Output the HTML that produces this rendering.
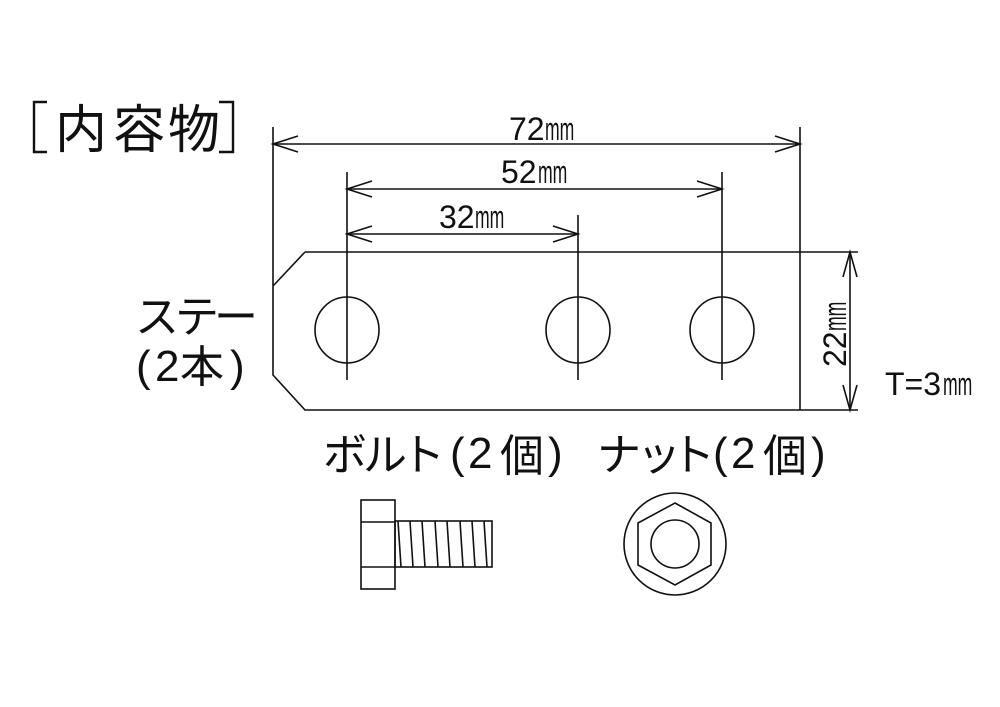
<!DOCTYPE html>
<html><head><meta charset="utf-8"><style>
html,body{margin:0;padding:0;background:#fff;}
svg{display:block;}
text{font-family:"Liberation Sans","Noto Sans CJK JP",sans-serif;fill:#111;}
.j{font-family:"Noto Sans CJK JP","Liberation Sans",sans-serif;text-anchor:middle;}
</style></head><body>
<svg width="1000" height="707" viewBox="0 0 1000 707" xmlns="http://www.w3.org/2000/svg">
<g stroke="#111" stroke-width="1.6" fill="none">
<path d="M305,252 L858,252 M273,127 L273,375 L305,410 L858,410 M273,286 L305,252"/>
<line x1="800" y1="127" x2="800" y2="410"/>
<line x1="273" y1="144" x2="800" y2="144"/>
<path d="M298,136 L273,144 L298,152 M775,136 L800,144 L775,152"/>
<line x1="347" y1="189" x2="722" y2="189"/>
<path d="M372,181 L347,189 L372,197 M697,181 L722,189 L697,197"/>
<line x1="347" y1="172" x2="347" y2="380"/>
<line x1="722" y1="172" x2="722" y2="380"/>
<line x1="347" y1="234" x2="578" y2="234"/>
<path d="M372,226 L347,234 L372,242 M553,226 L578,234 L553,242"/>
<line x1="578" y1="215" x2="578" y2="380"/>
<ellipse cx="347" cy="330" rx="32" ry="33"/>
<ellipse cx="578" cy="330" rx="32" ry="33"/>
<ellipse cx="722" cy="330" rx="32" ry="33"/>
<line x1="850" y1="252" x2="850" y2="410"/>
<path d="M843,277 L850,252 L857,277 M843,385 L850,410 L857,385"/>
<rect x="361" y="500" width="34" height="89"/>
<line x1="361" y1="522" x2="395" y2="522"/>
<line x1="361" y1="567" x2="395" y2="567"/>
<rect x="395" y="521" width="97" height="46"/>
<path d="M398,521 L401,567 M410,521 L413,567 M422,521 L425,567 M435,521 L438,567 M447,521 L450,567 M460,521 L463,567 M472,521 L475,567 M484,521 L487,567"/>
<circle cx="675" cy="544" r="51"/>
<polygon points="675,503 711,523 711,565 675,585 638,565 638,523"/>
<circle cx="675" cy="544" r="24"/>
<path d="M47,102 L34,102 L34,152 L47,152 M219,102 L233,102 L233,152 L219,152" stroke-width="2.4"/>
</g>
<g class="j" font-size="52">
<text x="81" y="148">内</text><text x="139" y="148">容</text><text x="194" y="148">物</text>
</g>
<g class="j" font-size="44">
<text x="157" y="332">ス</text><text x="197" y="332">テ</text><text x="236" y="332">ー</text>
</g>
<g font-size="44">
<text x="136" y="381">(</text><text x="155" y="381">2</text><text class="j" x="202" y="382">本</text><text x="230" y="381">)</text>
</g>
<g class="j" font-size="44">
<text x="345" y="470">ボ</text><text x="385" y="470">ル</text><text x="423" y="470">ト</text>
<text x="522" y="471">個</text>
<text x="619" y="470">ナ</text><text x="659" y="470">ッ</text><text x="693" y="470">ト</text>
<text x="785" y="471">個</text>
</g>
<g font-size="44">
<text x="450" y="468">(</text><text x="468" y="468">2</text><text x="548" y="468">)</text>
<text x="713" y="468">(</text><text x="731" y="468">2</text><text x="811" y="468">)</text>
</g>
<g font-size="32">
<text x="509" y="140">72</text><text transform="translate(545,140) scale(0.55,1)">mm</text>
<text x="501" y="183">52</text><text transform="translate(538,183) scale(0.55,1)">mm</text>
<text x="439" y="228">32</text><text transform="translate(475,228) scale(0.55,1)">mm</text>
<text x="885" y="395">T=3</text><text transform="translate(943,395) scale(0.55,1)">mm</text>
<g transform="translate(846,367) rotate(-90)"><text x="0" y="0">22</text><text transform="translate(36,0) scale(0.55,1)">mm</text></g>
</g>
</svg>
</body></html>
